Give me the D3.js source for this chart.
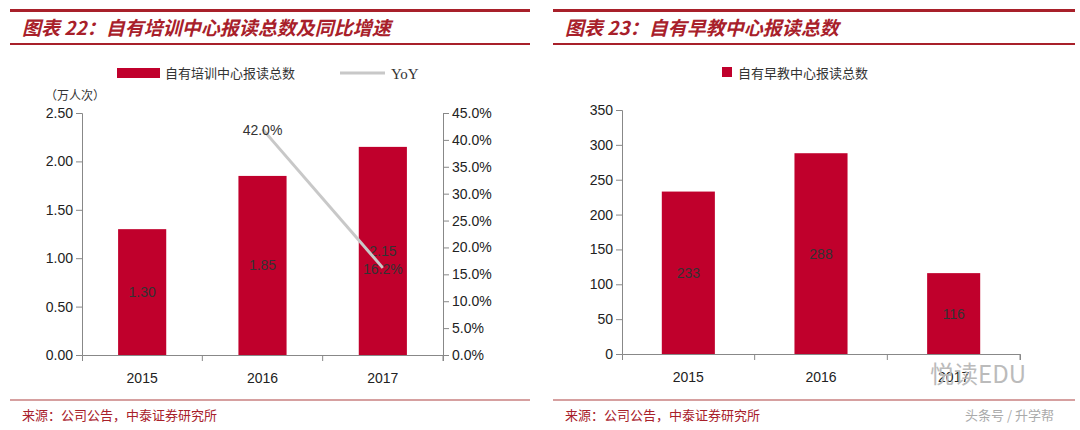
<!DOCTYPE html>
<html><head><meta charset="utf-8">
<script src="https://cdn.jsdelivr.net/npm/d3@7"></script>
<style>body{margin:0;background:#fff}svg{font-family:Arial,"Liberation Sans",sans-serif}</style>
</head><body><svg id="c" width="1080" height="430"></svg>
<script>
var years = ["2015","2016","2017"];
var train = [1.30,1.85,2.15];
var yoy = [null,42.0,16.2];
var early = [233,288,116];
var leftTicks = [0,0.5,1,1.5,2,2.5];
var rightTicks = [0,5,10,15,20,25,30,35,40,45];
var earlyTicks = [0,50,100,150,200,250,300,350];

var red = "#c0002c", grey = "#c8c8c8", cjk = "'Noto Sans CJK SC',sans-serif";
var svg = d3.select("#c");

function panel(x0, x1, title){
  svg.append("rect").attr("x",x0).attr("y",9).attr("width",x1-x0).attr("height",3).attr("fill","#a8202a");
  svg.append("rect").attr("x",x0).attr("y",43).attr("width",x1-x0).attr("height",2).attr("fill","#a8202a");
  svg.append("text").attr("x",x0+12).attr("y",35).attr("fill","#a8202a").style("font-family",cjk)
     .style("font-size","19px").style("font-weight","bold").style("font-style","italic").text(title);
  svg.append("line").attr("x1",x0).attr("x2",x1).attr("y1",400).attr("y2",400).attr("stroke","#c98080").attr("stroke-width",1.5);
  svg.append("text").attr("x",x0+12).attr("y",420).attr("fill","#a8202a").style("font-family",cjk)
     .style("font-size","13px").text("来源：公司公告，中泰证券研究所");
}
panel(10,530,"图表 22：自有培训中心报读总数及同比增速");
panel(553,1075,"图表 23：自有早教中心报读总数");

function axisStyle(g){
  g.selectAll("path,line").attr("stroke","#888");
  g.selectAll("text").style("font-size","14px").attr("fill","#222");
}

// left chart
var x = d3.scaleBand().domain(years).range([82,443]).paddingInner(0.6).paddingOuter(0.3);
var y = d3.scaleLinear().domain([0,2.5]).range([355,113]);
var y2 = d3.scaleLinear().domain([0,45]).range([355,113]);
svg.append("g").attr("transform","translate(82,0)").call(d3.axisLeft(y).tickValues(leftTicks).tickFormat(d3.format(".2f")).tickSizeOuter(6)).call(axisStyle);
svg.append("g").attr("transform","translate(443,0)").call(d3.axisRight(y2).tickValues(rightTicks).tickFormat(function(d){return d.toFixed(1)+"%";}).tickSizeOuter(6)).call(axisStyle);
var xb = d3.scaleBand().domain(years).range([82,443]);
svg.append("g").attr("transform","translate(0,355)").call(d3.axisBottom(xb).tickSize(6).tickSizeOuter(6).tickPadding(12)).call(axisStyle)
   .call(function(g){g.selectAll(".tick line").attr("transform","translate("+(xb.bandwidth()/2)+",0)");});
svg.selectAll(".b1").data(train).enter().append("rect")
   .attr("x",function(d,i){return x(years[i]);}).attr("width",x.bandwidth())
   .attr("y",function(d){return y(d);}).attr("height",function(d){return 355-y(d);}).attr("fill",red);
svg.selectAll(".l1").data(train).enter().append("text")
   .attr("x",function(d,i){return x(years[i])+x.bandwidth()/2;}).attr("y",function(d){return (y(d)+355)/2+5;})
   .attr("text-anchor","middle").style("font-size","14px").attr("fill","#333").text(function(d){return d.toFixed(2);});
var pts = yoy.map(function(v,i){return v==null?null:[xb(years[i])+xb.bandwidth()/2, y2(v)];}).filter(Boolean);
svg.append("path").attr("d",d3.line()(pts)).attr("stroke",grey).attr("stroke-width",3).attr("fill","none");
svg.selectAll(".yl").data(yoy.filter(function(v){return v!=null;})).enter().append("text")
   .attr("x",function(d,i){return pts[i][0];}).attr("y",function(d,i){return pts[i][1]+6;})
   .attr("text-anchor","middle").style("font-size","14px").attr("fill","#333").text(function(d){return d.toFixed(1)+"%";});
svg.append("text").attr("x",45).attr("y",100).style("font-family",cjk).style("font-size","12px").attr("fill","#333").text("（万人次）");
svg.append("rect").attr("x",117).attr("y",68).attr("width",43).attr("height",10).attr("fill",red);
svg.append("text").attr("x",165).attr("y",78).style("font-family",cjk).style("font-size","13px").attr("fill","#333").text("自有培训中心报读总数");
svg.append("line").attr("x1",340).attr("x2",385).attr("y1",73).attr("y2",73).attr("stroke",grey).attr("stroke-width",3);
svg.append("text").attr("x",391).attr("y",79).style("font-family","'Liberation Serif',serif").style("font-size","15px").attr("fill","#333").text("YoY");

// right chart
var xr = d3.scaleBand().domain(years).range([622,1020]).paddingInner(0.6).paddingOuter(0.3);
var xrb = d3.scaleBand().domain(years).range([622,1020]);
var yr = d3.scaleLinear().domain([0,350]).range([354,110]);
svg.append("g").attr("transform","translate(622,0)").call(d3.axisLeft(yr).tickValues(earlyTicks).tickSizeOuter(6)).call(axisStyle);
svg.append("g").attr("transform","translate(0,354)").call(d3.axisBottom(xrb).tickSize(6).tickSizeOuter(6).tickPadding(12)).call(axisStyle)
   .call(function(g){g.selectAll(".tick line").attr("transform","translate("+(xrb.bandwidth()/2)+",0)");});
svg.selectAll(".b2").data(early).enter().append("rect")
   .attr("x",function(d,i){return xr(years[i]);}).attr("width",xr.bandwidth())
   .attr("y",function(d){return yr(d);}).attr("height",function(d){return 354-yr(d);}).attr("fill",red);
svg.selectAll(".l2").data(early).enter().append("text")
   .attr("x",function(d,i){return xr(years[i])+xr.bandwidth()/2;}).attr("y",function(d){return (yr(d)+354)/2+5;})
   .attr("text-anchor","middle").style("font-size","14px").attr("fill","#333").text(function(d){return d;});
svg.append("rect").attr("x",722).attr("y",67).attr("width",10).attr("height",10).attr("fill",red);
svg.append("text").attr("x",738).attr("y",78).style("font-family",cjk).style("font-size","13px").attr("fill","#333").text("自有早教中心报读总数");

// watermark
svg.append("text").attr("x",930).attr("y",383).style("font-family",cjk).style("font-size","24px").attr("fill","#bbb").text("悦读EDU");
svg.append("text").attr("x",965).attr("y",420).style("font-family",cjk).style("font-size","13px").attr("fill","#aaa").text("头条号 / 升学帮");
</script></body></html>
